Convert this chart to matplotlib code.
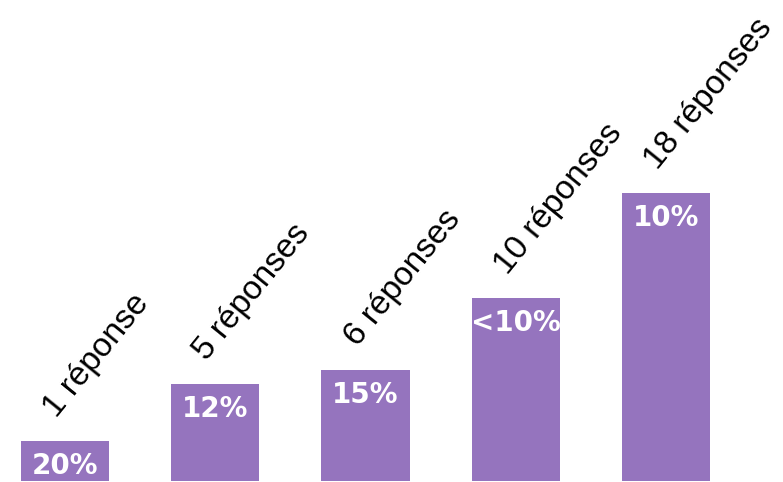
import matplotlib.pyplot as plt

labels = ['1 réponse', '5 réponses', '6 réponses', '10 réponses', '18 réponses']
heights = [40, 97, 111, 183, 288]  # bar heights
pct = ['20%', '12%', '15%', '<10%', '10%']

color = '#9574BE'

fig = plt.figure(figsize=(7.83, 4.82), dpi=100)
ax = fig.add_axes([0, 1 / 482, 1, 480 / 482])
x = list(range(len(labels)))
bars = ax.bar(x, heights, width=0.586, color=color)

for xi, h, lab, p in zip(x, heights, labels, pct):
    # percentage inside the bar
    ax.annotate(p, (xi, h), xytext=(0, -8), textcoords='offset points',
                ha='center', va='top', color='white', fontsize=20,
                fontweight='bold', family='DejaVu Sans')
    # rotated label above the bar
    ax.annotate(lab, (xi, h), xytext=(-6, 16), textcoords='offset points',
                ha='left', va='baseline', rotation=51, rotation_mode='anchor',
                fontsize=24, family=['Liberation Sans', 'DejaVu Sans'],
                color='black')

ax.set_xlim(-65 / 150.25, (783 - 65) / 150.25)
ax.set_ylim(0, 480)
ax.axis('off')

plt.savefig('out.png', dpi=100)
